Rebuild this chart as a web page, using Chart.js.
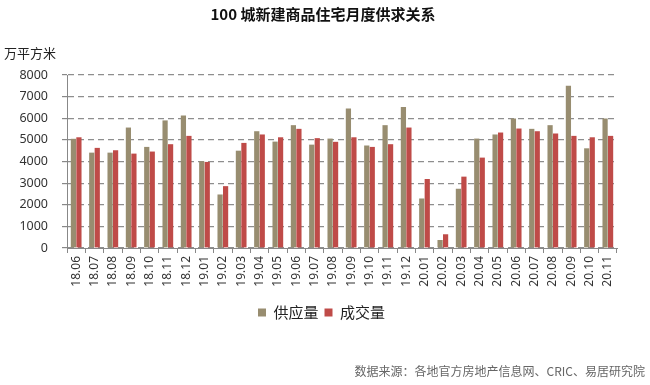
<!DOCTYPE html>
<html>
<head>
<meta charset="utf-8">
<script src="https://cdn.jsdelivr.net/npm/chart.js@4/dist/chart.umd.min.js"></script>
<style>
html,body{margin:0;padding:0;background:#fff;}
#wrap{width:650px;height:385px;position:relative;}
</style>
</head>
<body>
<div id="wrap"><canvas id="c" width="650" height="385"></canvas></div>
<script>
const categories = ["18.06","18.07","18.08","18.09","18.10","18.11","18.12","19.01","19.02","19.03","19.04","19.05","19.06","19.07","19.08","19.09","19.10","19.11","19.12","20.01","20.02","20.03","20.04","20.05","20.06","20.07","20.08","20.09","20.10","20.11"];
const supply = [5050,4410,4410,5570,4675,5900,6130,4010,2475,4500,5400,4920,5680,4780,5060,6450,4740,5680,6515,2290,370,2740,5060,5250,5990,5510,5680,7505,4610,5990];
const deals  = [5120,4630,4520,4365,4460,4800,5185,3980,2860,4860,5250,5120,5510,5080,4910,5120,4675,4800,5570,3190,635,3300,4180,5340,5525,5400,5295,5185,5120,5185];
const yTicks = [0,1000,2000,3000,4000,5000,6000,7000,8000];
const seriesNames = ["供应量","成交量"];
const titleText = "100 城新建商品住宅月度供求关系";
const unitText = "万平方米";
const sourceText = "数据来源：各地官方房地产信息网、CRIC、易居研究院";

const textPlugin = {
  id: 'texts',
  afterLayout(chart) {
    if (chart.legend) { chart.legend.left += 13; chart.legend.right += 13; }
  },
  afterDraw(chart) {
    const ctx = chart.ctx;
    ctx.save();
    ctx.fillStyle = '#111';
    ctx.font = 'bold 15px "Noto Sans CJK SC"';
    ctx.textAlign = 'center';
    ctx.textBaseline = 'middle';
    ctx.fillText(titleText, 323, 14);
    ctx.font = '13px "Noto Sans CJK SC"';
    ctx.textAlign = 'left';
    ctx.fillStyle = '#222';
    ctx.fillText(unitText, 4, 53);
    ctx.font = '12px "Noto Sans CJK SC"';
    ctx.textAlign = 'right';
    ctx.fillStyle = '#666';
    ctx.fillText(sourceText, 645, 371);
    ctx.restore();
  }
};

new Chart(document.getElementById('c'), {
  type: 'bar',
  data: {
    labels: categories,
    datasets: [
      { label: seriesNames[0], data: supply, backgroundColor: '#988d70', borderWidth: 0 },
      { label: seriesNames[1], data: deals, backgroundColor: '#bf4b48', borderWidth: 0 }
    ]
  },
  options: {
    responsive: false,
    animation: false,
    layout: { padding: { top: 75, left: 0, right: 33, bottom: 55 } },
    plugins: {
      title: { display: false },
      tooltip: { enabled: false },
      legend: {
        display: true,
        position: 'bottom',
        labels: {
          boxWidth: 8, boxHeight: 8, padding: 6,
          color: '#222',
          font: { size: 15, family: '"Noto Sans CJK SC"' }
        }
      }
    },
    datasets: { bar: { categoryPercentage: 0.6, barPercentage: 0.95 } },
    scales: {
      x: {
        grid: { display: true, drawOnChartArea: false, drawTicks: true, tickLength: 5, color: '#888', offset: true },
        border: { display: true, color: '#888', width: 1 },
        ticks: {
          minRotation: 90, maxRotation: 90, autoSkip: false,
          color: '#333', padding: 3,
          font: { size: 12, family: '"Noto Sans"' }
        },
        afterFit(scale) { scale.height = 51; }
      },
      y: {
        min: 0, max: 8000,
        afterBuildTicks(scale) { scale.ticks = yTicks.map(v => ({ value: v })); },
        grid: { color: '#8e8e8e', lineWidth: 1.2, drawTicks: true, tickLength: 5, tickColor: '#888', tickBorderDash: [] },
        border: { display: true, color: '#888', width: 1, dash: [6, 4] },
        ticks: {
          color: '#333', padding: 14,
          font: { size: 12.5, family: '"Noto Sans"' },
          callback: (v) => String(v)
        },
        afterFit(scale) { scale.width = 67; }
      }
    }
  },
  plugins: [textPlugin]
});
</script>
</body>
</html>
